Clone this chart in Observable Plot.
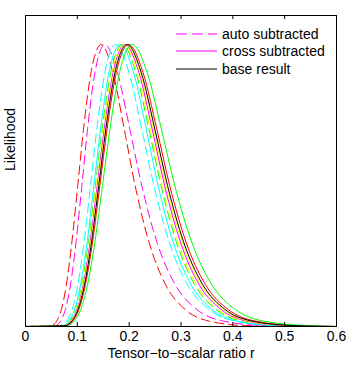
<!DOCTYPE html>
<html><head><meta charset="utf-8">
<script src="https://cdn.jsdelivr.net/npm/d3@7"></script>
<script src="https://cdn.jsdelivr.net/npm/@observablehq/plot@0.6"></script>
<style>body{margin:0;background:#fff;} svg{display:block;}</style>
</head><body><div id="chart"></div>
<script>
// Likelihood levels (fraction of peak) at which each curve's r positions were read
const levels = [0.003,0.02,0.06,0.15,0.3,0.5,0.7,0.9,1,0.9,0.7,0.5,0.3,0.15,0.06,0.02,0.003];

// auto subtracted (dashed)
const rAutoRed     = [0.0499,0.0605,0.0692,0.0790,0.0895,0.1008,0.1119,0.1263,0.146,0.1687,0.1905,0.2115,0.2381,0.2697,0.3082,0.3524,0.4273];
const rAutoMagenta = [0.0569,0.0680,0.0769,0.0870,0.0976,0.1088,0.1197,0.1339,0.153,0.1776,0.2013,0.2243,0.2534,0.2882,0.3307,0.3797,0.4633];
const rAutoCyan    = [0.0675,0.0799,0.0900,0.1013,0.1131,0.1255,0.1376,0.1531,0.174,0.1997,0.2242,0.2477,0.2772,0.3121,0.3545,0.4027,0.4838];
const rAutoGreen   = [0.0726,0.0858,0.0967,0.1088,0.1216,0.1348,0.1479,0.1646,0.187,0.2132,0.2381,0.2614,0.2910,0.3258,0.3676,0.4150,0.4942];
const rAutoYellow  = [0.0733,0.0868,0.0977,0.1100,0.1229,0.1363,0.1495,0.1663,0.189,0.2155,0.2406,0.2642,0.2941,0.3292,0.3716,0.4194,0.4995];
// cross subtracted (solid)
const rCrossCyan    = [0.0710,0.0840,0.0946,0.1065,0.1190,0.1319,0.1448,0.1610,0.183,0.2086,0.2330,0.2558,0.2847,0.3188,0.3598,0.4061,0.4837];
const rCrossMagenta = [0.0745,0.0881,0.0993,0.1117,0.1248,0.1384,0.1519,0.1690,0.192,0.2189,0.2444,0.2684,0.2988,0.3345,0.3775,0.4260,0.5075];
const rCrossYellow  = [0.0753,0.0890,0.1003,0.1129,0.1261,0.1399,0.1535,0.1707,0.194,0.2212,0.2470,0.2712,0.3019,0.3379,0.3814,0.4305,0.5127];
const rCrossRed     = [0.0772,0.0913,0.1029,0.1158,0.1294,0.1435,0.1574,0.1751,0.199,0.2269,0.2533,0.2782,0.3096,0.3467,0.3912,0.4416,0.5260];
const rCrossGreen   = [0.0799,0.0946,0.1065,0.1199,0.1339,0.1485,0.1629,0.1813,0.206,0.2348,0.2622,0.2880,0.3205,0.3589,0.4050,0.4571,0.5445];
// base result
const rBase         = [0.0760,0.0900,0.1013,0.1141,0.1274,0.1413,0.1550,0.1725,0.196,0.2234,0.2495,0.2740,0.3050,0.3414,0.3853,0.4349,0.5180];

const xTicks = [0,0.1,0.2,0.3,0.4,0.5,0.6];
const xTickLabels = ["0","0.1","0.2","0.3","0.4","0.5","0.6"];
const legendLabels = ["auto subtracted","cross subtracted","base result"];
const xLabel = "Tensor\u2212to\u2212scalar ratio r";
const yLabel = "Likelihood";

const series = [
  {id:"autoRed", r:rAutoRed, color:"#ff0000", dashed:true},
  {id:"autoMagenta", r:rAutoMagenta, color:"#ff00ff", dashed:true},
  {id:"autoCyan", r:rAutoCyan, color:"#00ffff", dashed:true},
  {id:"autoGreen", r:rAutoGreen, color:"#00ff00", dashed:true},
  {id:"autoYellow", r:rAutoYellow, color:"#ffff00", dashed:true},
  {id:"crossCyan", r:rCrossCyan, color:"#00ffff", dashed:false},
  {id:"crossMagenta", r:rCrossMagenta, color:"#ff00ff", dashed:false},
  {id:"crossYellow", r:rCrossYellow, color:"#ffff00", dashed:false},
  {id:"crossRed", r:rCrossRed, color:"#ff0000", dashed:false},
  {id:"crossGreen", r:rCrossGreen, color:"#00ff00", dashed:false},
  {id:"base", r:rBase, color:"#000000", dashed:false}
];

const W = 350, H = 366, mL = 25, mR = 14, mT = 15, mB = 40;
const frameH = H - mT - mB;
const DASH = "9,5";
const FONT = "'Liberation Sans', Arial, Helvetica, sans-serif";

function rowsOf(s) {
  return [{r:0, L:0}, ...levels.map((L, i) => ({r: s.r[i], L})), {r:0.6, L:0}];
}

const lineMarks = series.map(s => Plot.line(rowsOf(s), {
  x: "r", y: "L", stroke: s.color, strokeWidth: 1,
  strokeDasharray: s.dashed ? DASH : null, curve: "monotone-x", clip: true
}));

const legendStyles = [
  {color:"#ff00ff", dashed:true},
  {color:"#ff00ff", dashed:false},
  {color:"#000000", dashed:false}
];

function legendMark() {
  const g = d3.create("svg:g");
  const right = W - mR;
  legendLabels.forEach((lab, i) => {
    const y = Math.round(mT + 18.5 + i * 17.5);
    const ln = g.append("line")
      .attr("x1", right - 160).attr("x2", right - 119)
      .attr("y1", y).attr("y2", y)
      .style("stroke", legendStyles[i].color).style("stroke-width", "1.2px")
      .style("fill", "none");
    if (legendStyles[i].dashed) ln.style("stroke-dasharray", "11,5");
    g.append("text")
      .attr("x", right - 114).attr("y", y).attr("dy", "0.35em")
      .attr("text-anchor", "start")
      .attr("font-size", 14).attr("font-family", FONT).attr("fill", "#000")
      .text(lab);
  });
  return g.node();
}

const chart = Plot.plot({
  width: W, height: H,
  marginLeft: mL, marginRight: mR, marginTop: mT, marginBottom: mB,
  style: {fontFamily: FONT, fontSize: "14px", background: "#fff", color: "#000"},
  x: {domain: [0, 0.6]},
  y: {domain: [0, 1.103], axis: null},
  marks: [
    ...lineMarks,
    Plot.frame({stroke: "#000", strokeWidth: 1}),
    Plot.ruleX(xTicks, {x: d => d, insetTop: frameH - 4, stroke: "#000"}),
    Plot.ruleX(xTicks, {x: d => d, insetBottom: frameH - 4, stroke: "#000"}),
    Plot.axisX(xTicks, {anchor: "bottom", tickSize: 0, tickPadding: 5, fontSize: 14,
      tickFormat: d => xTickLabels[xTicks.indexOf(d)], label: null}),
    Plot.text([xLabel], {frameAnchor: "bottom", dy: 31, fontSize: 14, fill: "#000"}),
    Plot.text([yLabel], {frameAnchor: "left", dx: -15, rotate: -90, fontSize: 14, fill: "#000"}),
    legendMark
  ]
});
document.getElementById("chart").appendChild(chart);
</script>
</body></html>
